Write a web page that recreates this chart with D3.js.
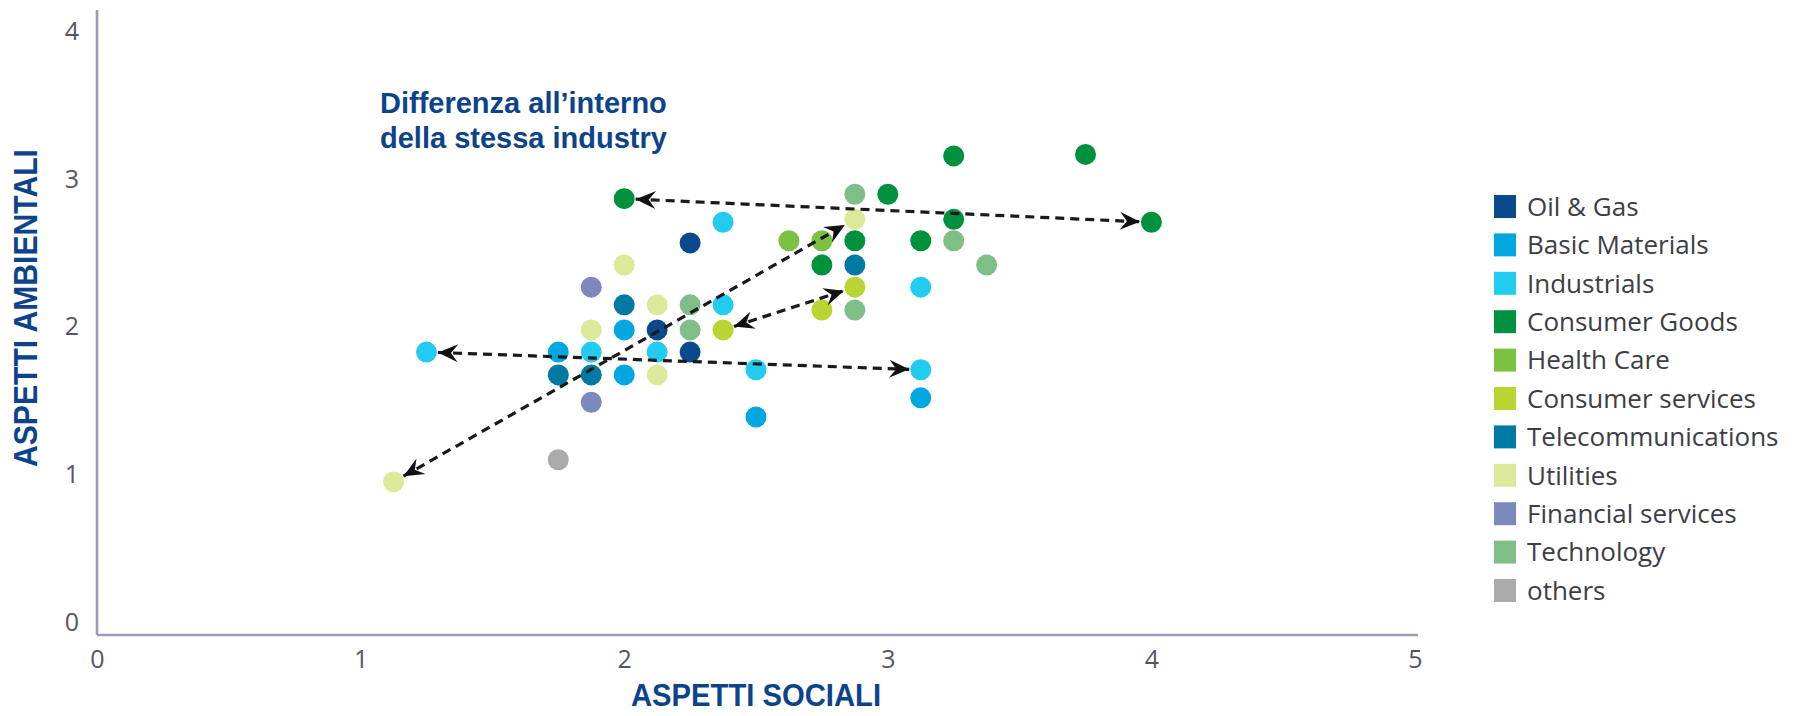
<!DOCTYPE html>
<html>
<head>
<meta charset="utf-8">
<script src="https://cdn.jsdelivr.net/npm/d3@7"></script>
<style>
  html, body { margin: 0; padding: 0; background: #ffffff; }
  svg { display: block; }
</style>
</head>
<body>
<svg id="chart" width="1803" height="716"></svg>
<script>
// ---------- DATA ----------
const categories = ["Oil & Gas", "Basic Materials", "Industrials", "Consumer Goods", "Health Care",
  "Consumer services", "Telecommunications", "Utilities", "Financial services", "Technology", "others"];
const categoryColors = ["#0a4a8c", "#00a7e1", "#21ccf0", "#00913f", "#7cc242",
  "#bad432", "#0079a3", "#dce99a", "#7b89bc", "#80be88", "#aaaaaa"];

// one entry per dot: sector, social score (x), environmental score (y)
const pointCategory = [
  "Oil & Gas", "Oil & Gas", "Oil & Gas",
  "Basic Materials", "Basic Materials", "Basic Materials", "Basic Materials", "Basic Materials",
  "Industrials", "Industrials", "Industrials", "Industrials", "Industrials", "Industrials", "Industrials", "Industrials",
  "Consumer Goods", "Consumer Goods", "Consumer Goods", "Consumer Goods", "Consumer Goods", "Consumer Goods", "Consumer Goods", "Consumer Goods", "Consumer Goods",
  "Health Care", "Health Care",
  "Consumer services", "Consumer services", "Consumer services",
  "Telecommunications", "Telecommunications", "Telecommunications", "Telecommunications",
  "Utilities", "Utilities", "Utilities", "Utilities", "Utilities", "Utilities",
  "Financial services", "Financial services",
  "Technology", "Technology", "Technology", "Technology", "Technology", "Technology",
  "others"
];
const pointSocial = [
  2.25, 2.125, 2.25,
  2.0, 1.75, 2.0, 2.5, 3.125,
  2.375, 2.375, 1.25, 1.875, 2.125, 2.5, 3.125, 3.125,
  2.0, 3.0, 3.25, 3.75, 3.25, 4.0, 2.875, 3.125, 2.75,
  2.625, 2.75,
  2.375, 2.875, 2.75,
  2.0, 1.75, 1.875, 2.875,
  2.0, 2.125, 1.875, 2.125, 1.125, 2.875,
  1.875, 1.875,
  2.25, 2.25, 2.875, 3.25, 3.375, 2.875,
  1.75
];
const pointEnv = [
  2.57, 1.98, 1.83,
  1.98, 1.83, 1.675, 1.39, 1.52,
  2.71, 2.15, 1.83, 1.83, 1.83, 1.71, 1.71, 2.27,
  2.87, 2.90, 3.16, 3.17, 2.73, 2.71, 2.585, 2.585, 2.42,
  2.585, 2.585,
  1.98, 2.27, 2.115,
  2.15, 1.675, 1.675, 2.42,
  2.42, 2.15, 1.98, 1.675, 0.95, 2.73,
  2.27, 1.49,
  2.15, 1.98, 2.90, 2.585, 2.42, 2.115,
  1.10
];

// double-headed dashed arrows: spread within the same industry (start / end values)
const arrowSocialA = [2.0, 1.25, 1.125, 2.375];
const arrowEnvA    = [2.87, 1.83, 0.95, 1.98];
const arrowSocialB = [4.0, 3.125, 2.875, 2.875];
const arrowEnvB    = [2.71, 1.71, 2.73, 2.27];

const xTicks = [0, 1, 2, 3, 4, 5];
const yTicks = [0, 1, 2, 3, 4];

const xTitle = "ASPETTI SOCIALI";
const yTitle = "ASPETTI AMBIENTALI";
const noteLines = ["Differenza all\u2019interno", "della stessa industry"];

// ---------- CHART ----------
const svg = d3.select("#chart");
const x = d3.scaleLinear().domain([0, 5]).range([97, 1415]);
const y = d3.scaleLinear().domain([-0.088, 4.149]).range([635, 10]);
const color = d3.scaleOrdinal().domain(categories).range(categoryColors);
const R = 10.5;
const navy = "#0d438a";
const axisGray = "#9c9cb2";

// axes
const xAxis = d3.axisBottom(x).tickValues(xTicks).tickSize(0).tickPadding(15).tickFormat(d3.format("d"));
const gx = svg.append("g").attr("transform", `translate(0,${y.range()[0]})`).call(xAxis);
gx.select(".domain").attr("stroke", axisGray).attr("stroke-width", 2.6).attr("d", `M${x(0)},0H1418`);
gx.selectAll("text").attr("font-family", "'Open Sans', 'Noto Sans', sans-serif")
  .attr("font-size", 25).attr("fill", "#555563");

const yAxis = d3.axisLeft(y).tickValues(yTicks).tickSize(0).tickPadding(18).tickFormat(d3.format("d"));
const gy = svg.append("g").attr("transform", `translate(${x(0)},0)`).call(yAxis);
gy.select(".domain").attr("stroke", axisGray).attr("stroke-width", 2.6)
  .attr("d", `M0,${y.range()[1]}V${y.range()[0]}`);
gy.selectAll("text").attr("font-family", "'Open Sans', 'Noto Sans', sans-serif")
  .attr("font-size", 25).attr("fill", "#555563");

// axis titles
svg.append("text")
  .attr("x", 756).attr("y", 706)
  .attr("text-anchor", "middle")
  .attr("font-family", "'Liberation Sans Narrow', 'Arial Narrow', 'Liberation Sans', sans-serif")
  .attr("font-weight", "bold").attr("font-size", 32).attr("fill", navy)
  .attr("textLength", 250).attr("lengthAdjust", "spacingAndGlyphs")
  .text(xTitle);

svg.append("text")
  .attr("transform", "translate(37,308) rotate(-90)")
  .attr("text-anchor", "middle")
  .attr("font-family", "'Liberation Sans Narrow', 'Arial Narrow', 'Liberation Sans', sans-serif")
  .attr("font-weight", "bold").attr("font-size", 33).attr("fill", navy)
  .attr("textLength", 318).attr("lengthAdjust", "spacingAndGlyphs")
  .text(yTitle);

// annotation
const note = svg.append("text")
  .attr("font-family", "'Liberation Sans', Arial, sans-serif")
  .attr("font-weight", "bold").attr("font-size", 29).attr("fill", navy);
noteLines.forEach((t, i) => {
  note.append("tspan").attr("x", 380).attr("y", 113 + i * 35).text(t);
});

// dots
const points = pointCategory.map((c, i) => ({ c, sx: pointSocial[i], ey: pointEnv[i] }));
svg.append("g").selectAll("circle").data(points).join("circle")
  .attr("cx", d => x(d.sx)).attr("cy", d => y(d.ey)).attr("r", R)
  .attr("fill", d => color(d.c));

// arrow markers
const defs = svg.append("defs");
defs.append("marker")
  .attr("id", "head").attr("viewBox", "-22 -11 24 22")
  .attr("refX", 0).attr("refY", 0)
  .attr("markerWidth", 24).attr("markerHeight", 22)
  .attr("markerUnits", "userSpaceOnUse")
  .attr("orient", "auto-start-reverse")
  .append("path").attr("d", "M0,0 L-20,-9 L-13,0 L-20,9 Z").attr("fill", "#111");

const arrows = arrowSocialA.map((v, i) => {
  const x1 = x(v), y1 = y(arrowEnvA[i]), x2 = x(arrowSocialB[i]), y2 = y(arrowEnvB[i]);
  const dx = x2 - x1, dy = y2 - y1, L = Math.hypot(dx, dy);
  const off = R + 1;
  return {
    x1: x1 + dx / L * off, y1: y1 + dy / L * off,
    x2: x2 - dx / L * off, y2: y2 - dy / L * off
  };
});
svg.append("g").selectAll("line").data(arrows).join("line")
  .attr("x1", d => d.x1).attr("y1", d => d.y1)
  .attr("x2", d => d.x2).attr("y2", d => d.y2)
  .attr("stroke", "#1a1a1a").attr("stroke-width", 3.2)
  .attr("stroke-dasharray", "9,6")
  .attr("marker-start", "url(#head)").attr("marker-end", "url(#head)");

// legend
const legend = svg.append("g");
const ly = d3.scalePoint().domain(categories).range([206.5, 590.5]);
const items = legend.selectAll("g").data(categories).join("g")
  .attr("transform", d => `translate(1494,${ly(d)})`);
items.append("rect").attr("x", 0).attr("y", -11.5).attr("width", 22).attr("height", 23)
  .attr("fill", d => color(d));
items.append("text").attr("x", 33).attr("y", 0).attr("dy", "0.36em")
  .attr("font-family", "'Open Sans', 'Noto Sans', sans-serif")
  .attr("font-size", 26).attr("fill", "#3d3d45")
  .text(d => d);
</script>
</body>
</html>
